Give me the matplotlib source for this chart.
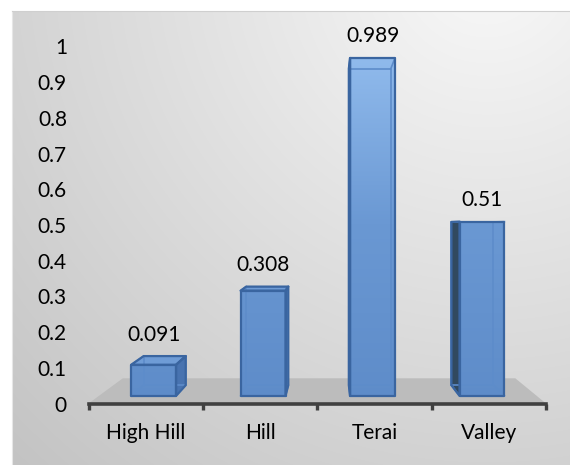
import numpy as np
import matplotlib
matplotlib.use('Agg')
import matplotlib.pyplot as plt
from matplotlib.patches import Polygon
from matplotlib.colors import LinearSegmentedColormap

# ---------------- data ----------------
categories = ['High Hill', 'Hill', 'Terai', 'Valley']
values = [0.091, 0.308, 0.989, 0.51]
value_labels = ['0.091', '0.308', '0.989', '0.51']
y_ticks = [0, 0.1, 0.2, 0.3, 0.4, 0.5, 0.6, 0.7, 0.8, 0.9, 1.0]
y_tick_labels = ['0', '0.1', '0.2', '0.3', '0.4', '0.5', '0.6', '0.7', '0.8', '0.9', '1']

plt.rcParams['font.family'] = ['Lato', 'DejaVu Sans']

W, H = 570, 465
fig = plt.figure(figsize=(W / 100, H / 100), dpi=100)
fig.patch.set_facecolor('white')

# ---------------- gradient panel background ----------------
bg = fig.add_axes([12 / W, 0, (W - 12) / W, (H - 11) / H])
gh, gw = 454, 558
yy, xx = np.mgrid[0:gh, 0:gw]
d = np.hypot(xx - 0.85 * gw, yy + 0.1 * gh)
val = 0.975 - 0.21 * d / d.max()
bg.imshow(np.dstack([val, val, val]), aspect='auto', extent=(0, 1, 0, 1), origin='upper')
bg.set_xlim(0, 1)
bg.set_ylim(0, 1)
bg.set_xticks([])
bg.set_yticks([])
for s in bg.spines.values():
    s.set_visible(False)
bg.spines['top'].set_visible(True)
bg.spines['top'].set_color('#cfcfcf')
bg.spines['left'].set_visible(True)
bg.spines['left'].set_color('#e6e6e6')
bg.set_zorder(0)

# ---------------- main axes ----------------
ax = fig.add_axes([88.5 / W, 61.5 / H, 457.5 / W, 1.1 * 357 / H])
ax.set_zorder(1)
ax.patch.set_alpha(0)
ax.set_xlim(-0.5, 3.5)
ax.set_ylim(0, 1.1)
for s in ['left', 'top', 'right']:
    ax.spines[s].set_visible(False)
ax.spines['bottom'].set_color('#404040')
ax.spines['bottom'].set_linewidth(2.6)
ax.spines['bottom'].set_zorder(6)

ax.set_yticks(y_ticks)
ax.set_yticklabels(y_tick_labels, fontsize=15, color='black')
ax.tick_params(axis='y', length=0, pad=15.5)

xpos = np.arange(len(categories))
ax.set_xticks(xpos)
ax.set_xticklabels(categories, fontsize=15, color='black')
ax.tick_params(axis='x', which='major', length=0, pad=14)
ax.set_xticks(np.arange(-0.5, len(categories), 1.0), minor=True)
ax.tick_params(axis='x', which='minor', length=4.2, width=2.4, color='#404040', direction='out')

# ---------------- pseudo-3D perspective ----------------
VX, VY = 1.611, 0.497        # vanishing point (data units)
F_FLOOR_BACK = 0.858
F_FRONT, F_BACK = 0.957, 0.897
HALF = 0.205


def proj(x, y, f):
    return (VX + (x - VX) * f, VY + (y - VY) * f)


floor = Polygon([proj(-0.5, 0, 1), proj(3.5, 0, 1),
                 proj(3.5, 0, F_FLOOR_BACK), proj(-0.5, 0, F_FLOOR_BACK)],
                closed=True, facecolor='#bcbcbc', edgecolor='none', zorder=2,
                clip_on=False)
ax.add_patch(floor)

cmap = LinearSegmentedColormap.from_list('barg', ['#5e8cc9', '#6a98d3', '#93bdee'])
grad = np.linspace(0, 1, 256).reshape(-1, 1)

edge_c = '#3a65a0'
inner_c = '#5d8cca'

for i, v in enumerate(values):
    x0, x1 = i - HALF, i + HALF
    fF = lambda x, y: proj(x, y, F_FRONT)
    fB = lambda x, y: proj(x, y, F_BACK)
    front = [fF(x0, 0), fF(x1, 0), fF(x1, v), fF(x0, v)]
    back = [fB(x0, 0), fB(x1, 0), fB(x1, v), fB(x0, v)]
    faces = []
    if x1 < VX:
        faces.append(([fF(x1, 0), fF(x1, v), fB(x1, v), fB(x1, 0)], '#4873b0'))
    if x0 > VX:
        faces.append(([fF(x0, 0), fF(x0, v), fB(x0, v), fB(x0, 0)], '#31495f'))
    if v < VY:
        faces.append(([fF(x0, v), fF(x1, v), fB(x1, v), fB(x0, v)], '#6f9cd6'))

    for pts, c in faces:
        ax.add_patch(Polygon(pts, closed=True, facecolor=c, edgecolor='none',
                             zorder=3, clip_on=False))
    fp = Polygon(front, closed=True, facecolor='none', edgecolor='none', zorder=3,
                 clip_on=False)
    ax.add_patch(fp)
    im = ax.imshow(grad, cmap=cmap, origin='lower', extent=(-0.5, 3.5, 0, 1.0),
                   aspect='auto', zorder=3, vmin=0, vmax=1)
    im.set_clip_path(fp)

    # seen-through hidden edges
    bxs = [p[0] for p in back] + [back[0][0]]
    bys = [p[1] for p in back] + [back[0][1]]
    ax.plot(bxs, bys, color=inner_c, lw=1.2, zorder=4, clip_on=False)
    for pf, pb in zip(front, back):
        ax.plot([pf[0], pb[0]], [pf[1], pb[1]], color=inner_c, lw=1.2, zorder=4,
                clip_on=False)

    # visible outlines
    for pts, c in faces:
        ax.add_patch(Polygon(pts, closed=True, facecolor='none', edgecolor=edge_c,
                             lw=1.6, zorder=5, joinstyle='round', clip_on=False))
    ax.add_patch(Polygon(front, closed=True, facecolor='none', edgecolor=edge_c,
                         lw=1.6, zorder=5, joinstyle='round', clip_on=False))

    top_y = max(fF(x0, v)[1], fB(x0, v)[1])
    cx = (fF(x0, v)[0] + fF(x1, v)[0]) / 2
    ax.annotate(value_labels[i], xy=(cx, top_y), xytext=(0, 15.5),
                textcoords='offset points', ha='center', va='center',
                fontsize=15, color='black', zorder=7, annotation_clip=False)

fig.savefig('out.png', dpi=100)
